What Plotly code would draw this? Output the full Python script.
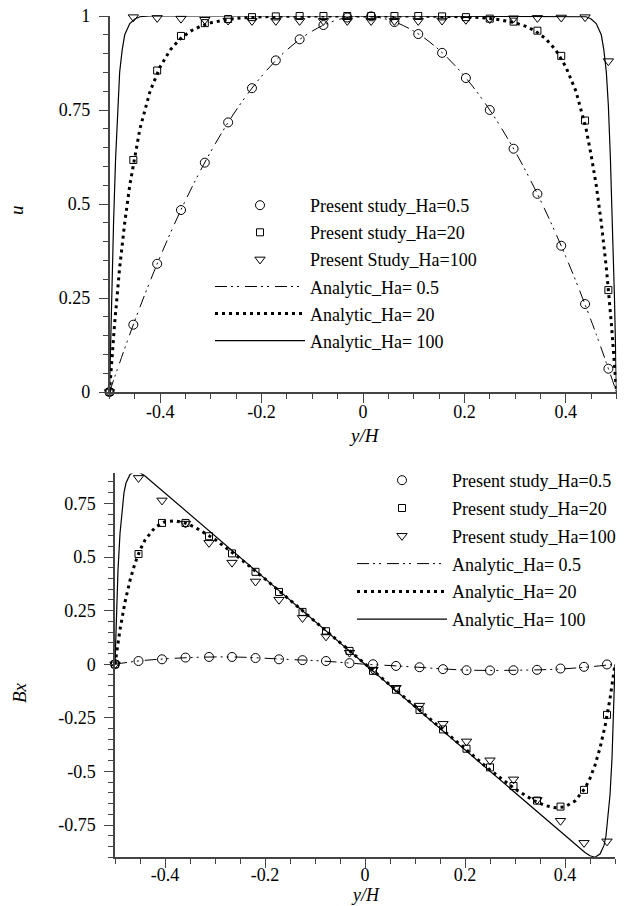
import plotly.graph_objects as go

# ---------------- data ----------------
y_pts = [-0.5, -0.453, -0.406, -0.359, -0.312, -0.266, -0.219, -0.172, -0.125, -0.078, -0.031,
         0.016, 0.062, 0.109, 0.156, 0.203, 0.25, 0.297, 0.344, 0.391, 0.438, 0.484]

# top panel: u
u_ps_05 = [0, 0.179, 0.341, 0.484, 0.610, 0.717, 0.808, 0.882, 0.938, 0.976, 0.996,
           0.999, 0.984, 0.952, 0.902, 0.835, 0.750, 0.647, 0.527, 0.389, 0.234, 0.062]
u_ps_20 = [0, 0.617, 0.855, 0.947, 0.981, 0.992, 0.997, 0.999, 1.0, 1.0, 1.0,
           1.0, 1.0, 1.0, 0.999, 0.997, 0.993, 0.985, 0.961, 0.894, 0.722, 0.271]
u_ps_100 = [0, 0.997, 0.995, 0.993, 0.990, 0.988, 0.987, 0.987, 0.987, 0.987, 0.987,
            0.987, 0.987, 0.987, 0.988, 0.990, 0.992, 0.994, 0.995, 0.996, 0.997, 0.88]

y_an05 = [-0.5, -0.45, -0.4, -0.35, -0.3, -0.25, -0.2, -0.15, -0.1, -0.05, 0,
          0.05, 0.1, 0.15, 0.2, 0.25, 0.3, 0.35, 0.4, 0.45, 0.5]
u_an05 = [0, 0.19, 0.36, 0.51, 0.64, 0.75, 0.84, 0.91, 0.96, 0.99, 1.0,
          0.99, 0.96, 0.91, 0.84, 0.75, 0.64, 0.51, 0.36, 0.19, 0]

y_an20 = [-0.5, -0.49, -0.48, -0.47, -0.46, -0.45, -0.44, -0.42, -0.40, -0.38, -0.36, -0.34,
          -0.32, -0.30, -0.27, -0.24, -0.20, -0.15, -0.1, 0, 0.1, 0.15, 0.2, 0.24, 0.27, 0.30,
          0.32, 0.34, 0.36, 0.38, 0.40, 0.42, 0.44, 0.45, 0.46, 0.47, 0.48, 0.49, 0.5]
u_an20 = [0, 0.18, 0.33, 0.45, 0.55, 0.63, 0.70, 0.80, 0.865, 0.91, 0.94, 0.96,
          0.973, 0.982, 0.99, 0.995, 0.998, 0.9995, 1.0, 1.0, 1.0, 0.9995, 0.998, 0.995, 0.99, 0.982,
          0.973, 0.96, 0.94, 0.91, 0.865, 0.80, 0.70, 0.63, 0.55, 0.45, 0.33, 0.18, 0]

y_an100 = [-0.5, -0.496, -0.492, -0.488, -0.484, -0.48, -0.475, -0.47, -0.46, -0.45, -0.44, -0.42,
           0, 0.42, 0.44, 0.45, 0.46, 0.47, 0.475, 0.48, 0.484, 0.488, 0.492, 0.496, 0.5]
u_an100 = [0, 0.25, 0.45, 0.62, 0.76, 0.85, 0.91, 0.95, 0.98, 0.992, 0.998, 1.0,
           1.0, 1.0, 0.998, 0.992, 0.98, 0.95, 0.91, 0.85, 0.76, 0.62, 0.45, 0.25, 0]

# bottom panel: Bx
bx_ps_05 = [0, 0.015, 0.023, 0.031, 0.034, 0.034, 0.029, 0.023, 0.019, 0.015, 0.005,
            0.0, -0.008, -0.014, -0.023, -0.028, -0.029, -0.028, -0.026, -0.020, -0.012, -0.001]
bx_ps_20 = [0, 0.514, 0.659, 0.659, 0.597, 0.517, 0.431, 0.337, 0.244, 0.154, 0.062,
            -0.031, -0.119, -0.213, -0.304, -0.394, -0.481, -0.568, -0.636, -0.664, -0.586, -0.236]
bx_ps_100 = [0, 0.869, 0.764, 0.656, 0.566, 0.474, 0.386, 0.301, 0.216, 0.13, 0.054,
             -0.026, -0.11, -0.193, -0.278, -0.36, -0.448, -0.537, -0.633, -0.730, -0.833, -0.826]

y_bx05 = [-0.5, -0.45, -0.4, -0.35, -0.3, -0.25, -0.2, -0.15, -0.1, -0.05, 0,
          0.05, 0.1, 0.15, 0.2, 0.25, 0.3, 0.35, 0.4, 0.45, 0.5]
bx_an05 = [0, 0.016, 0.025, 0.031, 0.034, 0.033, 0.028, 0.022, 0.017, 0.009, 0.0,
           -0.006, -0.013, -0.021, -0.027, -0.029, -0.028, -0.026, -0.021, -0.012, 0]

y_bx20 = [-0.5, -0.49, -0.48, -0.47, -0.46, -0.45, -0.44, -0.42, -0.40, -0.38, -0.36, -0.34,
          -0.30, -0.25, -0.2, -0.1, 0, 0.1, 0.2, 0.25, 0.3, 0.34, 0.36, 0.38, 0.40, 0.42,
          0.44, 0.45, 0.46, 0.47, 0.48, 0.49, 0.5]
bx_an20 = [0, 0.161, 0.29, 0.391, 0.471, 0.532, 0.579, 0.638, 0.665, 0.669, 0.659, 0.639,
           0.582, 0.493, 0.398, 0.2, 0, -0.2, -0.398, -0.493, -0.582, -0.639, -0.659, -0.669,
           -0.665, -0.638, -0.579, -0.532, -0.471, -0.391, -0.29, -0.161, 0]

y_bx100 = [-0.5, -0.497, -0.494, -0.49, -0.486, -0.482, -0.478, -0.47, -0.46, -0.45, -0.44,
           0, 0.44, 0.45, 0.46, 0.47, 0.478, 0.482, 0.486, 0.49, 0.494, 0.497, 0.5]
bx_an100 = [0, 0.25, 0.44, 0.61, 0.72, 0.80, 0.845, 0.885, 0.90, 0.893, 0.878,
            0, -0.878, -0.893, -0.90, -0.885, -0.845, -0.80, -0.72, -0.61, -0.44, -0.25, 0]

x_tickvals = [-0.4, -0.2, 0, 0.2, 0.4]
x_ticktext = ["-0.4", "-0.2", "0", "0.2", "0.4"]
u_tickvals = [0, 0.25, 0.5, 0.75, 1]
u_ticktext = ["0", "0.25", "0.5", "0.75", "1"]
bx_tickvals = [-0.75, -0.5, -0.25, 0, 0.25, 0.5, 0.75]
bx_ticktext = ["-0.75", "-0.5", "-0.25", "0", "0.25", "0.5", "0.75"]

top_names = ["Present study_Ha=0.5", "Present study_Ha=20", "Present Study_Ha=100",
             "Analytic_Ha= 0.5", "Analytic_Ha= 20", "Analytic_Ha= 100"]
bot_names = ["Present study_Ha=0.5", "Present study_Ha=20", "Present study_Ha=100",
             "Analytic_Ha= 0.5", "Analytic_Ha= 20", "Analytic_Ha= 100"]

# ---------------- styles / layout helpers ----------------
FONT = "Liberation Serif, Times New Roman, Times, serif"
INK = "black"
AX = "#444444"
W, H = 624, 906


def px(xp):
    return xp / W


def py(yp):
    return 1 - yp / H


mk_05 = dict(symbol="circle-open", size=9, color=INK, line=dict(width=1, color=INK))
mk_20 = dict(symbol="square-open", size=7, color=INK, line=dict(width=1, color=INK))
mk_100 = dict(symbol="triangle-down-open", size=9, color=INK, line=dict(width=1, color=INK))
ln_05 = dict(color=INK, width=1, dash="12px,4px,2px,4px,2px,6px")
ln_20 = dict(color=INK, width=3, dash="3px,4px")
ln_100 = dict(color=INK, width=1.2)

fig = go.Figure()


def add_panel(xa, ya, leg, names, ps, an):
    ms = [mk_05, mk_20, mk_100]
    for i in range(3):
        fig.add_trace(go.Scatter(x=y_pts, y=ps[i], mode="markers", marker=ms[i], name=names[i],
                                 xaxis=xa, yaxis=ya, legend=leg, legendgroup=leg + str(i),
                                 cliponaxis=False))
    lns = [ln_05, ln_20, ln_100]
    for i in range(3):
        fig.add_trace(go.Scatter(x=an[i][0], y=an[i][1], mode="lines", line=lns[i],
                                 line_shape="spline" if i == 0 else "linear",
                                 name=names[3 + i], xaxis=xa, yaxis=ya, legend=leg,
                                 legendgroup=leg + str(3 + i), cliponaxis=False))


add_panel("x", "y", "legend", top_names, [u_ps_05, u_ps_20, u_ps_100],
          [(y_an05, u_an05), (y_an20, u_an20), (y_an100, u_an100)])
add_panel("x2", "y2", "legend2", bot_names, [bx_ps_05, bx_ps_20, bx_ps_100],
          [(y_bx05, bx_an05), (y_bx20, bx_an20), (y_bx100, bx_an100)])

FS = 18
tickfont = dict(family=FONT, size=FS, color=INK)
minor = dict(dtick=0.05, tick0=0, ticks="outside", ticklen=5, tickwidth=1, tickcolor=AX)
common_x = dict(range=[-0.5, 0.5], showline=True, linecolor=AX, linewidth=1.5, ticks="outside",
                ticklen=9, tickwidth=1.2, tickcolor=AX, tickvals=x_tickvals, ticktext=x_ticktext,
                minor=minor, showgrid=False, zeroline=False, tickfont=tickfont,
                automargin=False, ticklabeloverflow="allow")
common_y = dict(showline=True, linecolor=AX, linewidth=1.5, ticks="outside",
                ticklen=9, tickwidth=1.2, tickcolor=AX, minor=minor,
                showgrid=False, zeroline=False, tickfont=tickfont, automargin=False,
                ticklabelstandoff=5, ticklabeloverflow="allow")

IW = 90
fig.update_layout(
    width=W, height=H, margin=dict(l=0, r=0, t=0, b=0),
    paper_bgcolor="white", plot_bgcolor="white",
    font=dict(family=FONT, size=FS, color=INK),
    xaxis=dict(domain=[px(109.5), px(616.5)], anchor="y", ticklabelstandoff=-6, **common_x),
    yaxis=dict(domain=[py(392), py(16)], anchor="x", range=[0, 1],
               tickvals=u_tickvals, ticktext=u_ticktext, **common_y),
    xaxis2=dict(domain=[px(115), px(615)], anchor="y2", ticklabelstandoff=-9, **common_x),
    yaxis2=dict(domain=[py(857.2), py(473.4)], anchor="x2", range=[-0.9, 0.89],
                tickvals=bx_tickvals, ticktext=bx_ticktext, **common_y),
    legend=dict(x=px(310 - IW - 10), y=py(187), xanchor="left", yanchor="top",
                bgcolor="rgba(0,0,0,0)", itemwidth=IW, tracegroupgap=0.7,
                font=dict(family=FONT, size=FS, color=INK)),
    legend2=dict(x=px(452 - IW - 10), y=py(462), xanchor="left", yanchor="top",
                 bgcolor="rgba(0,0,0,0)", itemwidth=IW, tracegroupgap=1.4,
                 font=dict(family=FONT, size=FS, color=INK)),
    annotations=[
        dict(text="<i>u</i>", x=px(17), y=py(210), xref="paper", yref="paper", xanchor="center",
             yanchor="middle", showarrow=False, textangle=-90, font=dict(family=FONT, size=19, color=INK)),
        dict(text="<i>y/H</i>", x=px(364), y=py(435), xref="paper", yref="paper", xanchor="center",
             yanchor="middle", showarrow=False, font=dict(family=FONT, size=19, color=INK)),
        dict(text="<i>Bx</i>", x=px(19), y=py(693), xref="paper", yref="paper", xanchor="center",
             yanchor="middle", showarrow=False, textangle=-90, font=dict(family=FONT, size=19, color=INK)),
        dict(text="<i>y/H</i>", x=px(365), y=py(895), xref="paper", yref="paper", xanchor="center",
             yanchor="middle", showarrow=False, font=dict(family=FONT, size=18, color=INK)),
    ],
)

fig.write_html("out.html", config={"displayModeBar": False},
               post_script="document.body.style.margin='0';")
